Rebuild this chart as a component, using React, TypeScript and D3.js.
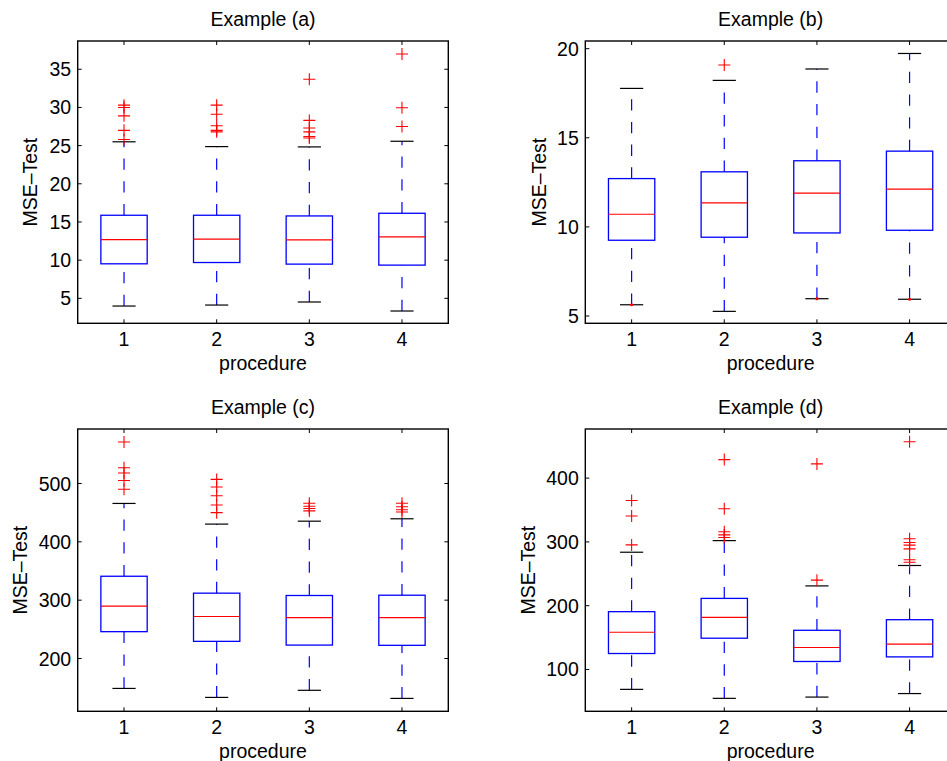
import React from 'react';
import * as d3 from 'd3';

const categories = ['1', '2', '3', '4'];

// Example (a)
const aQ1 = [9.52, 9.69, 9.48, 9.35];
const aMed = [12.7, 12.75, 12.66, 13.05];
const aQ3 = [15.88, 15.88, 15.79, 16.14];
const aLo = [3.99, 4.12, 4.52, 3.34];
const aHi = [25.5, 24.87, 24.83, 25.57];
const aOut = [
  [30.3, 30.0, 28.9, 27.0, 25.8],
  [30.3, 29.1, 27.6, 27.0, 26.8],
  [33.7, 28.3, 27.3, 26.8, 26.2, 26.0],
  [37.0, 29.95, 27.5],
];
const aDots: number[][] = [[], [], [], []];
const aTicks = [5, 10, 15, 20, 25, 30, 35];
const aDomain = [1.73, 38.7];

// Example (b)
const bQ1 = [9.25, 9.42, 9.66, 9.81];
const bMed = [10.71, 11.35, 11.89, 12.12];
const bQ3 = [12.71, 13.09, 13.71, 14.25];
const bLo = [5.63, 5.26, 5.97, 5.94];
const bHi = [17.77, 18.22, 18.86, 19.73];
const bOut = [[], [19.08], [], []];
const bDots = [[5.63], [], [5.97], [5.94]];
const bTicks = [5, 10, 15, 20];
const bDomain = [4.59, 20.43];

// Example (c)
const cQ1 = [246, 229.4, 223, 222.6];
const cMed = [289.7, 272, 270, 270];
const cQ3 = [341, 312, 308, 308.5];
const cLo = [148.7, 133.3, 145.5, 131.6];
const cHi = [465.8, 430.4, 435.4, 439.5];
const cOut = [
  [571, 527, 518, 505, 490],
  [507, 494, 479, 463, 450],
  [466, 461, 457, 453],
  [466, 460, 455, 451],
];
const cDots: number[][] = [[], [], [], []];
const cTicks = [200, 300, 400, 500];
const cDomain = [109.5, 593.4];

// Example (d)
const dQ1 = [125, 149, 112.5, 119.7];
const dMed = [158.3, 181.7, 134.4, 139.6];
const dQ3 = [190.6, 211.4, 161.4, 178];
const dLo = [68.8, 54.7, 56.7, 62.2];
const dHi = [283.8, 302, 231, 263];
const dOut = [
  [365, 340.6, 295.3],
  [429, 352, 316, 311, 307],
  [422.3, 240],
  [457, 305, 299, 295, 289, 272, 268],
];
const dDots: number[][] = [[], [], [], []];
const dTicks = [100, 200, 300, 400];
const dDomain = [34.4, 477];

const FONT = '"Liberation Sans", Arial, Helvetica, sans-serif';
const FS = 19.5;

type PanelProps = {
  title: string;
  left: number;
  top: number;
  width: number;
  height: number;
  ylabelX: number;
  domain: number[];
  ticks: number[];
  q1: number[];
  med: number[];
  q3: number[];
  lo: number[];
  hi: number[];
  out: number[][];
  dots: number[][];
};

function Panel(p: PanelProps) {
  const x = d3.scaleLinear().domain([0.5, 4.5]).range([p.left, p.left + p.width]);
  const y = d3.scaleLinear().domain(p.domain).range([p.top + p.height, p.top]);
  const bottom = p.top + p.height;
  const right = p.left + p.width;
  const boxHalf = x(1.25) - x(1);
  const capHalf = x(1.125) - x(1);
  const tl = 4;
  return (
    <g>
      <text x={(p.left + right) / 2} y={p.top - 15} textAnchor="middle" fontSize={FS} fontFamily={FONT} fill="#000">
        {p.title}
      </text>
      {categories.map((c, i) => {
        const cx = x(i + 1);
        return (
          <g key={c}>
            <line x1={cx} x2={cx} y1={y(p.q3[i])} y2={y(p.hi[i])} stroke="#0000ff" strokeWidth={1.2} strokeDasharray="11.3 11.4" />
            <line x1={cx} x2={cx} y1={y(p.lo[i])} y2={y(p.q1[i])} stroke="#0000ff" strokeWidth={1.2} strokeDasharray="11.3 11.4" />
            <line x1={cx - capHalf} x2={cx + capHalf} y1={y(p.hi[i])} y2={y(p.hi[i])} stroke="#000" strokeWidth={1.2} />
            <line x1={cx - capHalf} x2={cx + capHalf} y1={y(p.lo[i])} y2={y(p.lo[i])} stroke="#000" strokeWidth={1.2} />
            <rect x={cx - boxHalf} y={y(p.q3[i])} width={2 * boxHalf} height={y(p.q1[i]) - y(p.q3[i])} fill="none" stroke="#0000ff" strokeWidth={1.3} />
            <line x1={cx - boxHalf} x2={cx + boxHalf} y1={y(p.med[i])} y2={y(p.med[i])} stroke="#ff0000" strokeWidth={1.2} />
            {p.out[i].map((v, k) => (
              <path key={k} d={`M${cx - 6},${y(v)}H${cx + 6}M${cx},${y(v) - 6}V${y(v) + 6}`} stroke="#ff0000" strokeWidth={1.1} fill="none" />
            ))}
            {p.dots[i].map((v, k) => (
              <circle key={'d' + k} cx={cx} cy={y(v)} r={1.6} fill="#ff0000" />
            ))}
          </g>
        );
      })}
      <rect x={p.left} y={p.top} width={p.width} height={p.height} fill="none" stroke="#000" strokeWidth={1.4} />
      {p.ticks.map((t) => (
        <g key={t}>
          <line x1={p.left} x2={p.left + tl} y1={y(t)} y2={y(t)} stroke="#000" strokeWidth={1} />
          <line x1={right} x2={right - tl} y1={y(t)} y2={y(t)} stroke="#000" strokeWidth={1} />
          <text x={p.left - 6.5} y={y(t)} dy="0.36em" textAnchor="end" fontSize={FS} fontFamily={FONT} fill="#000">
            {t}
          </text>
        </g>
      ))}
      {categories.map((c, i) => (
        <g key={'x' + c}>
          <line x1={x(i + 1)} x2={x(i + 1)} y1={bottom} y2={bottom - tl} stroke="#000" strokeWidth={1} />
          <line x1={x(i + 1)} x2={x(i + 1)} y1={p.top} y2={p.top + tl} stroke="#000" strokeWidth={1} />
          <text x={x(i + 1)} y={bottom + 22.7} textAnchor="middle" fontSize={FS} fontFamily={FONT} fill="#000">
            {c}
          </text>
        </g>
      ))}
      <text x={(p.left + right) / 2} y={bottom + 47} textAnchor="middle" fontSize={FS} fontFamily={FONT} fill="#000">
        procedure
      </text>
      <text
        transform={`translate(${p.ylabelX},${(p.top + bottom) / 2}) rotate(-90)`}
        textAnchor="middle"
        fontSize={FS}
        fontFamily={FONT}
        fill="#000"
      >
        MSE–Test
      </text>
    </g>
  );
}

export default function App() {
  const W = 370.6;
  const H = 282.3;
  return (
    <svg
      width={947}
      height={761}
      style={{ position: 'absolute', left: 0, top: 0, background: '#fff' }}
    >
      <rect x={0} y={0} width={947} height={761} fill="#fff" />
      <Panel title="Example (a)" left={77.7} top={41} width={W} height={H} ylabelX={37.3} domain={aDomain} ticks={aTicks}
        q1={aQ1} med={aMed} q3={aQ3} lo={aLo} hi={aHi} out={aOut} dots={aDots} />
      <Panel title="Example (b)" left={585.3} top={41} width={W} height={H} ylabelX={546} domain={bDomain} ticks={bTicks}
        q1={bQ1} med={bMed} q3={bQ3} lo={bLo} hi={bHi} out={bOut} dots={bDots} />
      <Panel title="Example (c)" left={77.7} top={429} width={W} height={H} ylabelX={26.7} domain={cDomain} ticks={cTicks}
        q1={cQ1} med={cMed} q3={cQ3} lo={cLo} hi={cHi} out={cOut} dots={cDots} />
      <Panel title="Example (d)" left={585.3} top={429} width={W} height={H} ylabelX={535} domain={dDomain} ticks={dTicks}
        q1={dQ1} med={dMed} q3={dQ3} lo={dLo} hi={dHi} out={dOut} dots={dDots} />
    </svg>
  );
}
